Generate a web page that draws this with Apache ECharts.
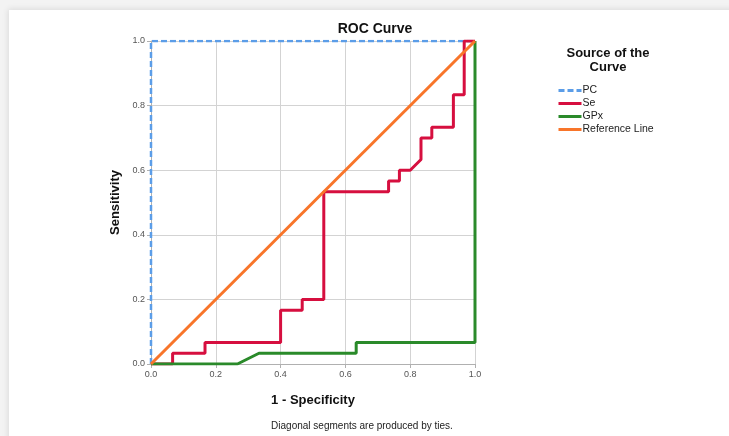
<!DOCTYPE html>
<html>
<head>
<meta charset="utf-8">
<script src="https://cdn.jsdelivr.net/npm/echarts@6/dist/echarts.min.js"></script>
<style>
html,body{margin:0;padding:0;width:729px;height:436px;overflow:hidden;background:#f3f3f3;}
#card{position:absolute;left:9px;top:10px;width:740px;height:450px;background:#fff;box-shadow:-1px -1px 6px rgba(0,0,0,0.10);}
#chart{position:absolute;left:0;top:0;width:729px;height:436px;}
</style>
</head>
<body>
<div id="card"></div>
<div id="chart"></div>
<script>
// ROC curve data (x = 1 - Specificity, y = Sensitivity)
const pcX = [0, 0, 1];
const pcY = [0, 1, 1];
const seX = [0, 0.0667, 0.0667, 0.1667, 0.1667, 0.4, 0.4, 0.4667, 0.4667, 0.5333, 0.5333, 0.7333, 0.7333, 0.7667, 0.7667, 0.8, 0.8333, 0.8333, 0.8667, 0.8667, 0.9333, 0.9333, 0.9667, 0.9667, 1];
const seY = [0, 0, 0.0333, 0.0333, 0.0667, 0.0667, 0.1667, 0.1667, 0.2, 0.2, 0.5333, 0.5333, 0.5667, 0.5667, 0.6, 0.6, 0.6333, 0.7, 0.7, 0.7333, 0.7333, 0.8333, 0.8333, 1, 1];
const gpxX = [0, 0.2667, 0.3333, 0.6333, 0.6333, 1, 1];
const gpxY = [0, 0, 0.0333, 0.0333, 0.0667, 0.0667, 1];
const refX = [0, 1];
const refY = [0, 1];
const seriesNames = ['PC', 'Se', 'GPx', 'Reference Line'];
const tickValues = [0, 0.2, 0.4, 0.6, 0.8, 1.0];

const zip = (xs, ys) => xs.map((x, i) => [x, ys[i]]);
const chart = echarts.init(document.getElementById('chart'), null, {renderer: 'canvas'});
const font = 'Arial, "Liberation Sans", sans-serif';
const axisCommon = {
  type: 'value', min: 0, max: 1, interval: 0.2,
  axisLine: {show: true, lineStyle: {color: '#b0b0b0', width: 1}},
  axisTick: {show: true, length: 4, lineStyle: {color: '#b0b0b0'}},
  splitLine: {show: true, lineStyle: {color: '#d3d3d3', width: 1}},
  axisLabel: {fontSize: 9, color: '#555', fontFamily: font, formatter: v => v.toFixed(1)},
  nameTextStyle: {fontSize: 13, fontWeight: 'bold', color: '#111', fontFamily: font}
};
chart.setOption({
  animation: false,
  backgroundColor: 'transparent',
  title: [
    {text: 'ROC Curve', left: 370, top: 17, textAlign: 'center',
     textStyle: {fontSize: 14, fontWeight: 'bold', color: '#111', fontFamily: font}},
    {text: 'Source of the\nCurve', left: 603, top: 41, textAlign: 'center',
     textStyle: {fontSize: 13, fontWeight: 'bold', color: '#111', fontFamily: font, lineHeight: 14}},
    {text: 'Diagonal segments are produced by ties.', left: 357, top: 416, textAlign: 'center',
     textStyle: {fontSize: 10, fontWeight: 'normal', color: '#222', fontFamily: font}}
  ],
  grid: {left: 151, right: 254, top: 41, bottom: 72},
  xAxis: Object.assign({}, axisCommon, {
    name: '1 - Specificity', nameLocation: 'middle', nameGap: 30,
    axisLabel: Object.assign({}, axisCommon.axisLabel, {margin: 6})
  }),
  yAxis: Object.assign({}, axisCommon, {
    name: 'Sensitivity', nameLocation: 'middle', nameGap: 29,
    axisLabel: Object.assign({}, axisCommon.axisLabel, {margin: 6})
  }),
  legend: {
    orient: 'vertical', left: 552, top: 80, itemWidth: 23, itemHeight: 9, itemGap: 2,
    itemStyle: {opacity: 0},
    lineStyle: {width: 3},
    textStyle: {fontSize: 10.5, color: '#222', fontFamily: font, padding: [0, 0, 0, -4]},
    data: seriesNames
  },
  series: [
    {name: seriesNames[0], type: 'line', data: zip(pcX, pcY), symbol: 'none', showSymbol: false,
     color: '#5b9de8', lineStyle: {color: '#5b9de8', width: 2.5, type: [6, 3]}},
    {name: seriesNames[1], type: 'line', data: zip(seX, seY), symbol: 'none', showSymbol: false,
     color: '#d60f3f', lineStyle: {color: '#d60f3f', width: 3}},
    {name: seriesNames[2], type: 'line', data: zip(gpxX, gpxY), symbol: 'none', showSymbol: false,
     color: '#2a8a2a', lineStyle: {color: '#2a8a2a', width: 3}},
    {name: seriesNames[3], type: 'line', data: zip(refX, refY), symbol: 'none', showSymbol: false,
     color: '#f8752a', lineStyle: {color: '#f8752a', width: 3}}
  ]
});
</script>
</body>
</html>
